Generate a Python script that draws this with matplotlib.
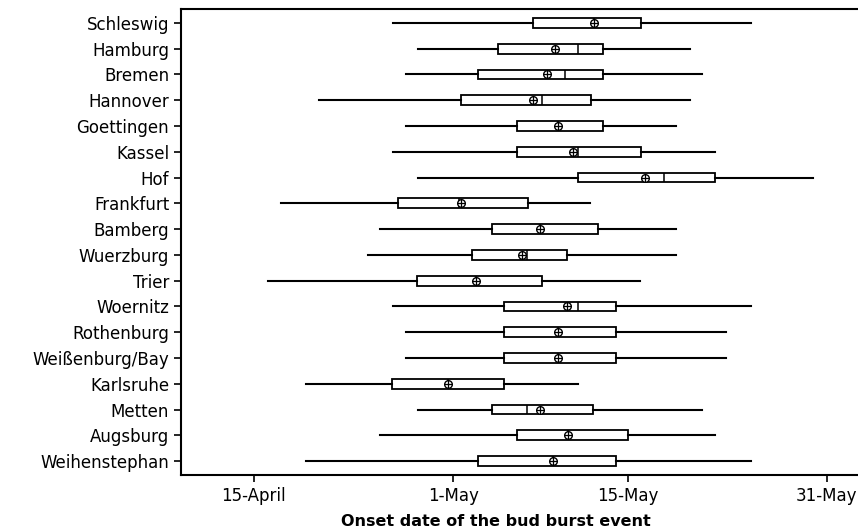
import matplotlib.pyplot as plt

# Bud burst onset per station, as day of year (non-leap: 1-May = 121)
stations = ["Schleswig", "Hamburg", "Bremen", "Hannover", "Goettingen", "Kassel",
            "Hof", "Frankfurt", "Bamberg", "Wuerzburg", "Trier", "Woernitz",
            "Rothenburg", "Weißenburg/Bay", "Karlsruhe", "Metten", "Augsburg",
            "Weihenstephan"]
whisker_low = [116.2, 118.2, 117.2, 110.2, 117.2, 116.2, 118.2, 107.2, 115.1,
               114.2, 106.1, 116.2, 117.2, 117.2, 109.2, 118.2, 115.1, 109.2]
q1 = [127.4, 124.6, 123.0, 121.6, 126.1, 126.1, 131.0, 116.6, 124.1,
      122.5, 118.1, 125.1, 125.1, 125.1, 116.1, 124.1, 126.1, 123.0]
median = [132.3, 131.0, 130.0, 128.1, 129.4, 131.0, 137.9, 121.5, 128.0,
          126.9, 122.8, 131.0, 129.4, 129.4, 120.6, 126.9, 130.2, 129.0]
q3 = [136.1, 133.0, 133.0, 132.1, 133.0, 136.1, 142.0, 127.0, 132.6,
      130.1, 128.1, 134.1, 134.1, 134.1, 125.1, 132.2, 135.0, 134.1]
whisker_high = [144.9, 140.0, 141.0, 140.0, 138.9, 142.0, 149.9, 132.0, 138.9,
                138.9, 136.0, 144.9, 142.9, 142.9, 131.0, 141.0, 142.0, 144.9]
mean = [132.3, 129.2, 128.5, 127.4, 129.4, 130.6, 136.4, 121.6, 128.0,
        126.5, 122.8, 130.1, 129.4, 129.4, 120.6, 128.0, 130.2, 129.0]

tick_days = [105, 121, 135, 151]
tick_labels = ["15-April", "1-May", "15-May", "31-May"]

stats = []
for i, name in enumerate(stations):
    stats.append({"label": name, "whislo": whisker_low[i], "q1": q1[i],
                  "med": median[i], "q3": q3[i], "whishi": whisker_high[i],
                  "mean": mean[i], "fliers": []})

fig = plt.figure(figsize=(8.58, 5.31), dpi=100)
ax = fig.add_axes([0.211, 0.1055, 0.789, 0.8775])

positions = list(range(1, len(stations) + 1))
ax.bxp(stats, positions=positions, vert=False, widths=0.38,
       showcaps=False, showmeans=False, patch_artist=True,
       boxprops=dict(facecolor="white", edgecolor="black", linewidth=1.3),
       medianprops=dict(color="black", linewidth=1.1),
       whiskerprops=dict(color="black", linewidth=1.5))

# circled-plus mean symbol
ax.plot(mean, positions, "o", ms=5.5, mfc="white", mec="black", mew=1.0, zorder=5)
ax.plot(mean, positions, "+", ms=5.5, mec="black", mew=0.9, zorder=6)

ax.set_xlim(99.15, 153.5)
ax.set_ylim(18.54, 0.46)
ax.set_yticks(positions)
ax.set_yticklabels(stations, fontsize=12)
ax.set_xticks(tick_days)
ax.set_xticklabels(tick_labels, fontsize=12)
ax.tick_params(direction="out", length=5, width=1.2)
ax.set_xlabel("Onset date of the bud burst event", fontsize=11.5,
              fontweight="bold")
ax.xaxis.set_label_coords(0.465, -0.083)

ax.spines["right"].set_visible(False)
for s in ["left", "top", "bottom"]:
    ax.spines[s].set_linewidth(1.5)

fig.savefig("out.png", dpi=100)
